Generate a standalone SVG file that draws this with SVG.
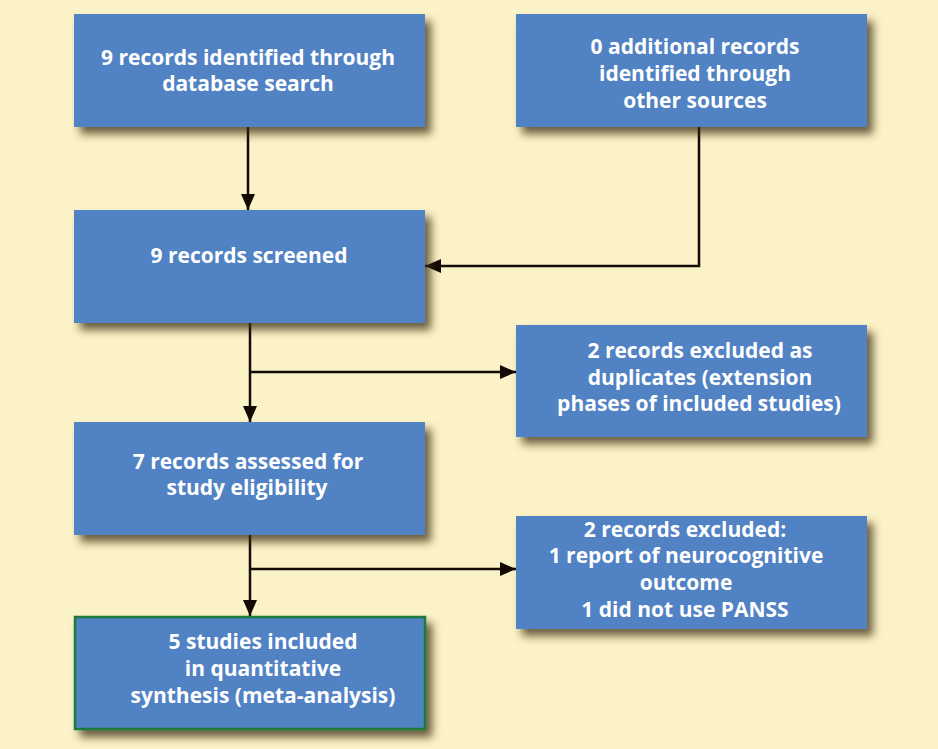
<svg xmlns="http://www.w3.org/2000/svg" width="938" height="749" viewBox="0 0 938 749">
<defs>
<filter id="sh" x="-10%" y="-10%" width="130%" height="140%">
<feDropShadow dx="6" dy="7" stdDeviation="4" flood-color="#3a2e10" flood-opacity="0.75"/>
</filter>
<marker id="ah" markerWidth="16" markerHeight="14" refX="16" refY="7" orient="auto" markerUnits="userSpaceOnUse">
<path d="M0,0 L16,7 L0,14 Z" fill="#140a06"/>
</marker>
<style>
.box{fill:#5182c4;filter:url(#sh)}
.fin{stroke:#1d7a3c;stroke-width:2.5}
.t{font-family:"Open Sans","Noto Sans",sans-serif;font-weight:bold;font-size:21px;fill:#ffffff;text-anchor:middle}
.ln{stroke:#140a06;stroke-width:2.5;fill:none}
.arr{marker-end:url(#ah)}
</style>
</defs>
<rect width="938" height="749" fill="#fbf2c7"/>
<g id="connectors">
<line class="ln arr" x1="248" y1="127" x2="248" y2="210"/>
<polyline class="ln arr" points="699,127 699,266 425,266"/>
<line class="ln arr" x1="250" y1="323" x2="250" y2="422"/>
<line class="ln arr" x1="250" y1="372" x2="516" y2="372"/>
<line class="ln arr" x1="250" y1="535" x2="250" y2="616"/>
<line class="ln arr" x1="250" y1="569" x2="516" y2="569"/>
</g>
<g id="n1"><rect class="box" x="74" y="14" width="351" height="113"/>
<text class="t" x="248" y="65">9 records identified through</text>
<text class="t" x="248" y="91">database search</text></g>
<g id="n2"><rect class="box" x="516" y="14" width="351" height="113"/>
<text class="t" x="695" y="54">0 additional records</text>
<text class="t" x="695" y="81">identified through</text>
<text class="t" x="695" y="108">other sources</text></g>
<g id="n3"><rect class="box" x="74" y="210" width="351" height="113"/>
<text class="t" x="249" y="263">9 records screened</text></g>
<g id="n4"><rect class="box" x="516" y="325" width="351" height="112"/>
<text class="t" x="700" y="358">2 records excluded as</text>
<text class="t" x="700" y="385">duplicates (extension</text>
<text class="t" x="699" y="411">phases of included studies)</text></g>
<g id="n5"><rect class="box" x="74" y="422" width="351" height="113"/>
<text class="t" x="248" y="469">7 records assessed for</text>
<text class="t" x="247" y="495">study eligibility</text></g>
<g id="n6"><rect class="box" x="516" y="516" width="351" height="113"/>
<text class="t" x="685" y="537">2 records excluded:</text>
<text class="t" x="686" y="563">1 report of neurocognitive</text>
<text class="t" x="686" y="590">outcome</text>
<text class="t" x="685" y="617">1 did not use PANSS</text></g>
<g id="n7"><rect class="box fin" x="75" y="617" width="350" height="112"/>
<text class="t" x="263" y="649">5 studies included</text>
<text class="t" x="263" y="676">in quantitative</text>
<text class="t" x="263" y="703">synthesis (meta-analysis)</text></g>
</svg>
